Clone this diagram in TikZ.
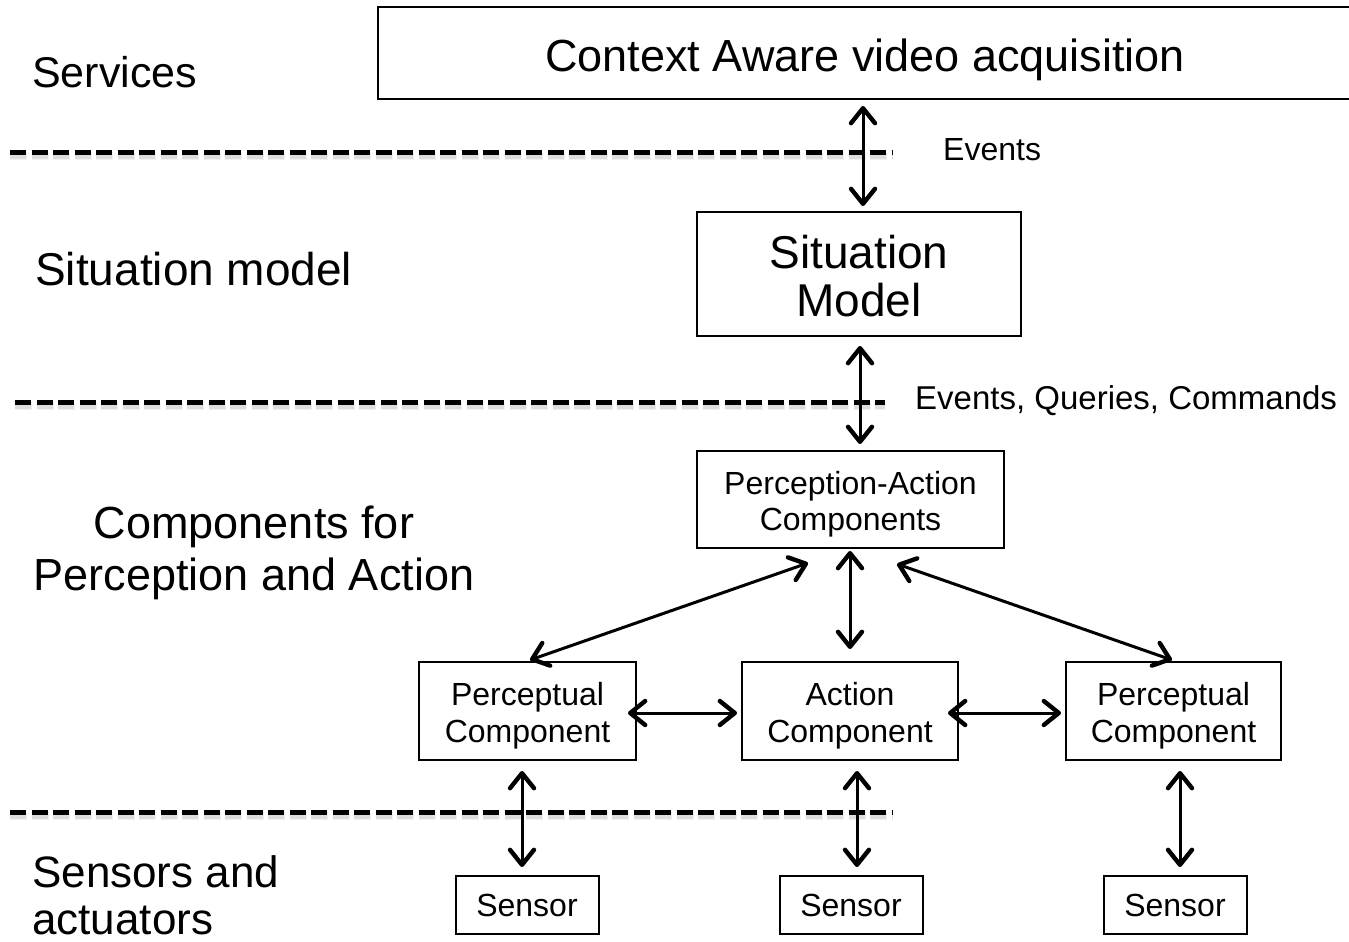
\documentclass[tikz,border=0pt]{standalone}
\usepackage{fontspec}
\setmainfont{Liberation Sans}
\usetikzlibrary{arrows.meta}
\tikzset{
  box/.style={draw=black, line width=2pt, inner sep=0pt},
  txt/.style={align=center, inner sep=0pt},
  lbl/.style={align=left, inner sep=0pt},
  big/.style={font=\fontsize{45}{52}\selectfont},
  small/.style={font=\fontsize{32}{37}\selectfont},
  arr/.style={line width=3pt, {Straight Barb[length=15pt,width=24pt,line width=4.4pt,round]}-{Straight Barb[length=15pt,width=24pt,line width=4.4pt,round]}},
  sep/.style={line width=5pt, dash pattern=on 16pt off 5.5pt},
  sepshadowA/.style={line width=8pt, dash pattern=on 17pt off 4.5pt, black, opacity=0.06},
  sepshadowB/.style={line width=5pt, dash pattern=on 16pt off 5.5pt, black, opacity=0.08},
}
\begin{document}
\begin{tikzpicture}[x=1pt,y=-1pt]
\useasboundingbox (0,0) rectangle (1349,942);
\fill[white] (0,0) rectangle (1349,942);

% separators
\foreach \yy/\xa/\xb in {152/10/893, 402/15/885, 812/10/893}{
  \draw[sepshadowA] (\xa,\yy+4) -- (\xb,\yy+4);
  \draw[sepshadowB] (\xa,\yy+4) -- (\xb,\yy+4);
  \draw[sep] (\xa,\yy) -- (\xb,\yy);
}

% layer labels
\node[lbl, font=\fontsize{43}{50}\selectfont, anchor=west] (lservices) at (32,72) {Services};
\node[lbl, font=\fontsize{46}{52}\selectfont, anchor=west] (lsituation) at (35,269) {Situation model};
\node[big, txt] (lcomp) at (254,553) {Components for\\Perception and Action};
\node[lbl, font=\fontsize{44}{47}\selectfont, anchor=west] (lsensors) at (32,895) {Sensors and\\actuators};

% boxes
\node[box, minimum width=974pt, minimum height=92pt] (ctx) at (865,53) {};
\node[box, minimum width=324pt, minimum height=124pt] (sit) at (859,274) {};
\node[box, minimum width=307pt, minimum height=97pt] (pa) at (850.5,499.5) {};
\node[box, minimum width=217pt, minimum height=98pt] (pc1) at (527.5,711) {};
\node[box, minimum width=216pt, minimum height=98pt] (ac) at (850,711) {};
\node[box, minimum width=215pt, minimum height=98pt] (pc2) at (1173.5,711) {};
\node[box, minimum width=143pt, minimum height=58pt, small] (s1) at (527,905) {Sensor};
\node[box, minimum width=143pt, minimum height=58pt, small] (s2) at (851,905) {Sensor};
\node[box, minimum width=143pt, minimum height=58pt, small] (s3) at (1175,905) {Sensor};

% box texts
\node[txt, font=\fontsize{45}{52}\selectfont] (ctxt) at (865,60) {Context Aware video acquisition};
\node[txt, font=\fontsize{46}{48}\selectfont] (sitt) at (859,276) {Situation\\Model};
\node[txt, font=\fontsize{32}{36}\selectfont] (pat) at (850.5,504.5) {Perception-Action\\Components};
\node[txt, font=\fontsize{32}{37}\selectfont] (pc1t) at (527.5,716) {Perceptual\\Component};
\node[txt, font=\fontsize{32}{37}\selectfont] (act) at (850,716) {Action\\Component};
\node[txt, font=\fontsize{32}{37}\selectfont] (pc2t) at (1173.5,716) {Perceptual\\Component};

% connector labels
\node[lbl, small, anchor=west] (ev1) at (943,150) {Events};
\node[lbl, font=\fontsize{33}{38}\selectfont, anchor=west] (ev2) at (915,401) {Events, Queries, Commands};

% connectors
\draw[arr] ([xshift=-2pt,yshift=-6pt]ctx.south) -- ([xshift=4pt,yshift=5pt]sit.north);
\draw[arr] ([xshift=1pt,yshift=-9pt]sit.south) -- ([xshift=9.5pt,yshift=6pt]pa.north);
\draw[arr] ([xshift=-0.5pt,yshift=-2pt]pa.south) -- ([yshift=12pt]ac.north);
\draw[arr] ([xshift=-42.5pt,yshift=-14pt]pa.south) -- ([xshift=2.5pt,yshift=1pt]pc1.north);
\draw[arr] ([xshift=46.5pt,yshift=-15pt]pa.south) -- ([xshift=-1.5pt,yshift=1pt]pc2.north);
\draw[arr] ([xshift=-9pt,yshift=-2pt]pc1.east) -- ([xshift=-4pt,yshift=-2pt]ac.west);
\draw[arr] ([xshift=-11pt,yshift=-2pt]ac.east) -- ([xshift=-4pt,yshift=-2pt]pc2.west);
\draw[arr] ([xshift=-5.5pt,yshift=-10pt]pc1.south) -- ([xshift=-5pt,yshift=8pt]s1.north);
\draw[arr] ([xshift=7pt,yshift=-10pt]ac.south) -- ([xshift=6pt,yshift=8pt]s2.north);
\draw[arr] ([xshift=6.5pt,yshift=-10pt]pc2.south) -- ([xshift=5pt,yshift=8pt]s3.north);
\end{tikzpicture}
\end{document}
